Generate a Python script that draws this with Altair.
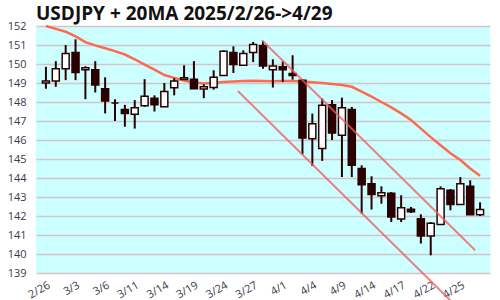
import altair as alt
import pandas as pd

dates = ["2/26","2/27","2/28","3/3","3/4","3/5","3/6","3/7","3/10","3/11","3/12","3/13","3/14",
         "3/17","3/18","3/19","3/20","3/21","3/24","3/25","3/26","3/27","3/28","3/31",
         "4/1","4/2","4/3","4/4","4/7","4/8","4/9","4/10","4/11","4/14","4/15","4/16","4/17","4/18",
         "4/21","4/22","4/23","4/24","4/25","4/28","4/29"]
opens  = [149.00,149.10,149.75,150.60,149.70,149.70,148.70,147.95,147.60,147.35,147.80,148.20,147.75,
          148.75,149.18,149.20,148.68,148.76,149.40,150.60,149.93,150.60,150.98,149.70,
          149.86,149.50,149.15,146.07,145.55,147.86,146.25,147.60,144.50,143.70,143.07,143.20,141.84,142.35,
          141.86,140.95,141.55,143.35,142.60,143.56,142.07]
highs  = [149.85,150.15,151.00,151.30,149.88,150.15,149.30,148.15,147.85,148.10,149.20,148.35,149.00,
          149.25,149.93,150.15,148.93,149.67,150.72,150.93,150.72,151.16,151.20,150.25,
          150.14,150.46,149.20,147.39,148.18,148.10,148.23,147.74,144.67,144.09,143.56,143.26,143.09,142.47,
          142.09,141.68,143.56,143.42,144.05,143.88,142.72]
lows   = [148.70,148.80,149.15,149.15,148.15,148.50,147.40,147.00,146.70,146.60,147.75,147.50,147.75,
          148.35,149.18,148.68,148.20,148.65,149.40,149.53,149.93,150.10,149.75,148.76,
          149.05,149.18,145.25,144.63,144.90,146.00,144.05,144.05,142.13,142.34,142.65,141.68,141.68,142.16,
          140.55,139.93,141.55,142.30,142.60,142.07,142.00]
closes = [149.10,149.75,150.55,149.55,149.80,148.90,148.05,147.95,147.40,147.70,148.30,147.85,148.55,
          149.10,149.28,148.70,148.80,149.30,150.67,149.97,150.55,151.02,149.90,149.90,
          149.70,149.40,146.10,146.86,147.83,146.37,147.70,144.67,143.65,143.13,143.23,141.95,142.44,142.23,
          140.95,141.62,143.44,142.60,143.70,142.07,142.34]
ma20   = [152.00,151.85,151.70,151.45,151.15,150.98,150.83,150.68,150.50,150.25,149.97,149.70,149.42,
          149.27,149.13,149.02,148.98,149.00,149.05,149.08,149.10,149.12,149.10,149.09,
          149.10,149.10,149.08,149.04,149.00,148.95,148.90,148.80,148.55,148.28,148.00,147.72,147.40,147.05,
          146.60,146.15,145.72,145.30,144.95,144.50,144.12]

upper_x = [21.9, 43.5]
upper_y = [151.25, 140.20]
lower_x = [19.45, 41.0]
lower_y = [148.58, 137.55]

tick_idx = list(range(0, 45, 3))
y_ticks = list(range(139, 153))

df = pd.DataFrame({"i": list(range(len(dates))), "date": dates, "open": opens,
                   "high": highs, "low": lows, "close": closes, "ma": ma20})
df["kind"] = ["up" if c > o else ("down" if c < o else "flat") for o, c in zip(opens, closes)]

chan = pd.DataFrame({"i": upper_x + lower_x, "v": upper_y + lower_y,
                     "grp": ["u", "u", "l", "l"]})

label_arr = "[" + ",".join("'" + d + "'" for d in dates) + "]"

xscale = alt.Scale(domain=[-0.5, 44.5], nice=False, zero=False)
yscale = alt.Scale(domain=[139, 152], nice=False, zero=False)

xax = alt.Axis(values=tick_idx, labelExpr=label_arr + "[datum.value]", title=None,
               grid=False, ticks=False, domain=False, labelAngle=-30, labelFontSize=11,
               labelColor="#3a3a4a", labelPadding=6, labelFont="Open Sans", labelOverlap=False)
yax = alt.Axis(values=y_ticks, title=None, grid=True, gridColor="#d4c4c8",
               gridWidth=1.5, ticks=False, domain=False, labelFontSize=11, labelColor="#3a3a4a",
               labelPadding=10, labelFont="Open Sans", labelOverlap=False)

base = alt.Chart(df)

ma_line = base.mark_line(color="#ff6a4d", strokeWidth=2.5).encode(
    x=alt.X("i:Q", scale=xscale, axis=xax),
    y=alt.Y("ma:Q", scale=yscale, axis=yax),
)

wicks = base.mark_rule(color="#2b0000", strokeWidth=2).encode(
    x=alt.X("i:Q", scale=xscale, axis=xax),
    y=alt.Y("low:Q", scale=yscale, axis=yax),
    y2="high:Q",
)

bodies = base.mark_bar(size=7, stroke="#2b0000", strokeWidth=1.5).encode(
    x=alt.X("i:Q", scale=xscale, axis=xax),
    y=alt.Y("open:Q", scale=yscale, axis=yax),
    y2="close:Q",
    fill=alt.Fill("kind:N", scale=alt.Scale(domain=["up", "down", "flat"],
                                           range=["#ffffff", "#2b0000", "#8c6c6c"]), legend=None),
)

channel = alt.Chart(chan).mark_line(color="#f05a5a", strokeWidth=2, opacity=0.75, clip=False).encode(
    x=alt.X("i:Q", scale=xscale, axis=xax),
    y=alt.Y("v:Q", scale=yscale, axis=yax),
    detail="grp:N",
)

chart = alt.layer(ma_line, wicks, bodies, channel).properties(
    width=454, height=247,
    title=alt.TitleParams("USDJPY + 20MA 2025/2/26->4/29", anchor="start", fontSize=19,
                          font="Open Sans", fontWeight="bold", color="#111111", offset=-4,
                          frame="group"),
    autosize=alt.AutoSizeParams(type="none"),
    padding={"left": 36, "top": 26, "right": 10, "bottom": 27},
    background="#ffffff",
).configure_view(fill="#ccffff", stroke=None).configure_axis(labelOverlap=False)

chart.save("out.html", embed_options={"renderer": "svg", "actions": False})
